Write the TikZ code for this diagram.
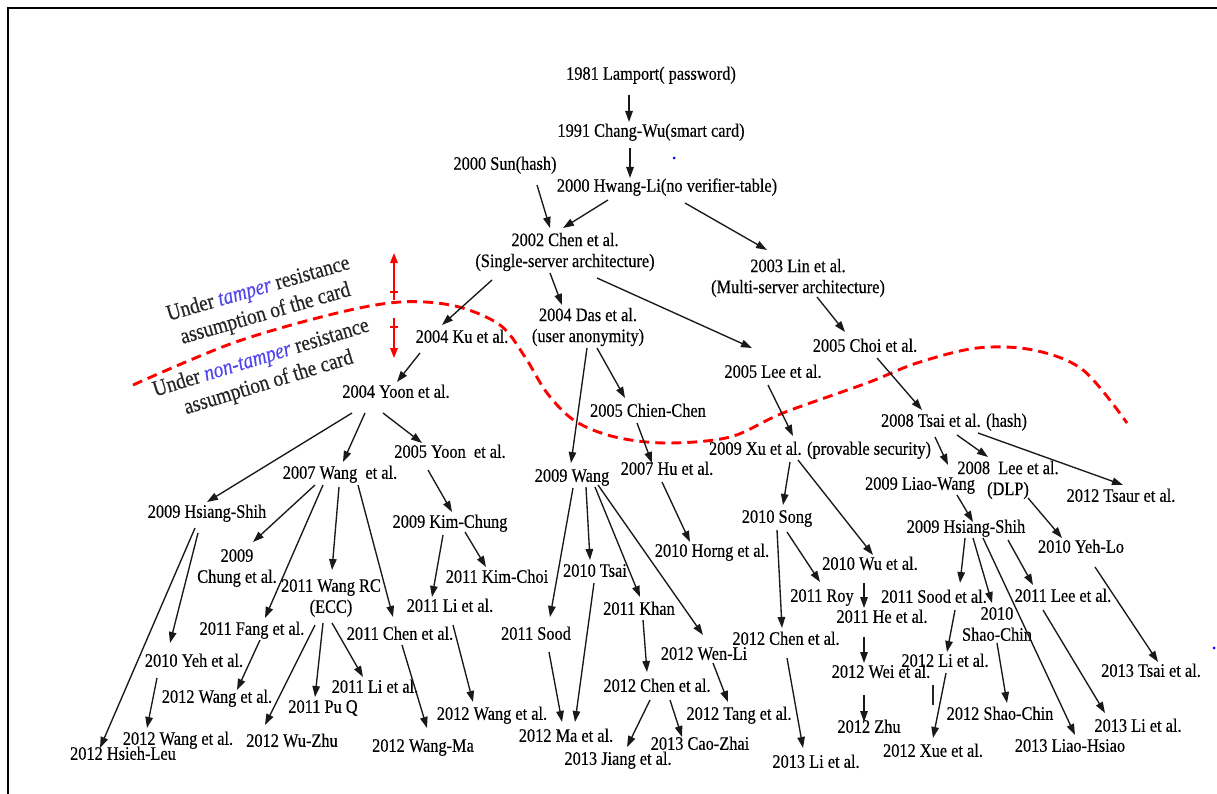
\documentclass[tikz,border=0pt]{standalone}
\usepackage{fontspec}
\setmainfont{Liberation Serif}[FakeStretch=0.86,FakeBold=0.3]
\usetikzlibrary{arrows.meta}
\definecolor{tblue}{RGB}{80,70,235}
\tikzset{
 lbl/.style={font=\fontsize{19}{21}\selectfont, inner sep=0pt, text height=13pt, text depth=3.5pt},
 lbl2/.style={font=\fontsize{19}{21}\selectfont, inner sep=0pt, align=center},
 arr/.style={-{Triangle[length=11pt,width=7.5pt]}, line width=1.35pt, black!90},
 redarr/.style={-{Triangle[length=10pt,width=7.5pt]}, line width=1.7pt, red},
 boundary/.style={red, line width=2.9pt, dash pattern=on 10pt off 6pt},
 note/.style={font=\fontsize{22.5}{26}\selectfont, align=center, inner sep=0pt, text=black!85}
}
\newcommand\conn[4]{\draw[arr] ([shift={(#2)}]#1.center) -- ([shift={(#4)}]#3.center);}
\begin{document}
\begin{tikzpicture}[x=1pt,y=-1pt]
\useasboundingbox (0,0) rectangle (1217,794);
\fill[white] (0,0) rectangle (1217,794);
\draw[line width=2.2pt] (8,794) -- (8,8) -- (1217,8);

% nodes
\node[lbl] (L81) at (651,75) {1981 Lamport( password)};
\node[lbl] (CW91) at (651,132) {1991 Chang-Wu(smart card)};
\node[lbl] (Sun) at (505,165) {2000 Sun(hash)};
\node[lbl] (HL) at (667,187) {2000 Hwang-Li(no verifier-table)};
\node[lbl2] (Chen02) at (565,252) {2002 Chen et al.\\(Single-server architecture)};
\node[lbl2] (Lin03) at (798,278) {2003 Lin et al.\\(Multi-server architecture)};
\node[lbl] (Ku04) at (462,338) {2004 Ku et al.};
\node[lbl] (Yoon04) at (396,393) {2004 Yoon et al.};
\node[lbl2] (Das04) at (588,327) {2004 Das et al.\\(user anonymity)};
\node[lbl] (Lee05) at (773,373) {2005 Lee et al.};
\node[lbl] (Choi05) at (865,347) {2005 Choi et al.};
\node[lbl] (CC05) at (648,412) {2005 Chien-Chen};
\node[lbl] (Tsai08) at (954,422) {2008 Tsai et al. (hash)};
\node[lbl] (Xu09) at (820,450) {2009 Xu et al. (provable security)};
\node[lbl] (Yoon05) at (450,453) {2005 Yoon\ \ et al.};
\node[lbl] (Wang07) at (340,474) {2007 Wang\ \ et al.};
\node[lbl] (Wang09) at (572,477) {2009 Wang};
\node[lbl] (Hu07) at (667,470) {2007 Hu et al.};
\node[lbl2] (LeeDLP) at (1008,480) {2008\ \ Lee et al.\\(DLP)};
\node[lbl] (LiaoW) at (920,485) {2009 Liao-Wang};
\node[lbl] (Tsaur12) at (1121,497) {2012 Tsaur et al.};
\node[lbl] (HSL) at (207,513) {2009 Hsiang-Shih};
\node[lbl] (KimCh) at (450,523) {2009 Kim-Chung};
\node[lbl] (Song10) at (777,518) {2010 Song};
\node[lbl] (HSR) at (966,528) {2009 Hsiang-Shih};
\node[lbl] (Horng10) at (712,552) {2010 Horng et al.};
\node[lbl2] (Chung09) at (237,568) {2009\\Chung et al.};
\node[lbl2] (WangRC) at (331,598) {2011 Wang RC\\(ECC)};
\node[lbl] (KimChoi) at (497,578) {2011 Kim-Choi};
\node[lbl] (Tsai10) at (595,572) {2010 Tsai};
\node[lbl] (YehLo) at (1081,548) {2010 Yeh-Lo};
\node[lbl] (Wu10) at (870,565) {2010 Wu et al.};
\node[lbl] (LiA) at (450,607) {2011 Li et al.};
\node[lbl] (Khan) at (639,610) {2011 Khan};
\node[lbl] (Roy) at (822,597) {2011 Roy};
\node[lbl] (SoodEt) at (934,598) {2011 Sood et al.};
\node[lbl] (Lee11) at (1063,597) {2011 Lee et al.};
\node[lbl2] (SC10) at (997,624) {2010\\Shao-Chin};
\node[lbl] (He11) at (882,618) {2011 He et al.};
\node[lbl] (Fang) at (252,630) {2011 Fang et al.};
\node[lbl] (Chen11) at (400,635) {2011 Chen et al.};
\node[lbl] (Sood) at (536,635) {2011 Sood};
\node[lbl] (Chen12a) at (786,640) {2012 Chen et al.};
\node[lbl] (WenLi) at (704,655) {2012 Wen-Li};
\node[lbl] (Yeh10) at (194,662) {2010 Yeh et al.};
\node[lbl] (Li12) at (945,662) {2012 Li et al.};
\node[lbl] (Wei12) at (881,673) {2012 Wei et al.};
\node[lbl] (Tsai13) at (1151,672) {2013 Tsai et al.};
\node[lbl] (LiB) at (375,688) {2011 Li et al.};
\node[lbl] (Chen12b) at (657,687) {2012 Chen et al.};
\node[lbl] (PuQ) at (323,708) {2011 Pu Q};
\node[lbl] (Wang12a) at (217,698) {2012 Wang et al.};
\node[lbl] (Wang12b) at (492,715) {2012 Wang et al.};
\node[lbl] (Tang) at (739,715) {2012 Tang et al.};
\node[lbl] (SC12) at (1000,715) {2012 Shao-Chin};
\node[lbl] (Li13a) at (1138,727) {2013 Li et al.};
\node[lbl] (Zhu) at (869,728) {2012 Zhu};
\node[lbl] (Ma) at (566,737) {2012 Ma et al.};
\node[lbl] (Wang12c) at (178,740) {2012 Wang et al.};
\node[lbl] (WuZhu) at (292,742) {2012 Wu-Zhu};
\node[lbl] (CaoZhai) at (700,745) {2013 Cao-Zhai};
\node[lbl] (WangMa) at (423,747) {2012 Wang-Ma};
\node[lbl] (LiaoH) at (1070,747) {2013 Liao-Hsiao};
\node[lbl] (Xue) at (933,752) {2012 Xue et al.};
\node[lbl] (HsiehLeu) at (123,755) {2012 Hsieh-Leu};
\node[lbl] (Jiang) at (618,760) {2013 Jiang et al.};
\node[lbl] (Li13b) at (816,763) {2013 Li et al.};

% notes
\node[note, rotate=16] (tamp) at (262,302) {Under \textcolor{tblue}{\itshape tamper} resistance\\assumption of the card};
\node[note, rotate=17] (ntamp) at (265,371) {Under \textcolor{tblue}{\itshape non-tamper} resistance\\assumption of the card};

% boundary
\draw[boundary] plot[smooth, tension=0.55] coordinates {(133,385) (233,343) (333,314) (400,302) (455,306) (500,325) (525,357) (547,393) (575,421) (615,437) (667,443) (730,437) (783,413) (867,383) (917,363) (977,348) (1033,350) (1083,370) (1127,423)};

% red arrows
\coordinate (ua) at (394,300); \coordinate (ub) at (394,253);
\coordinate (da) at (394,318); \coordinate (db) at (394,358);
\draw[redarr] (ua) -- (ub);
\draw[redarr] (da) -- (db);
\draw[red, line width=1.4pt] (390,292) -- (398,292);
\draw[red, line width=1.4pt] (390,327) -- (398,327);

% edges
\conn{L81}{-22,20}{CW91}{-22,-10}
\conn{CW91}{-21,16}{HL}{-37,-9}
\conn{Sun}{32,20}{Chen02}{-15,-24}
\conn{HL}{-59,13}{Chen02}{-2,-24}
\conn{HL}{18,16}{Lin03}{-31,-28}
\conn{Chen02}{-73,28}{Ku04}{-20,-13}
\conn{Chen02}{-15,21}{Das04}{-26,-22}
\conn{Chen02}{32,26}{Lee05}{-21,-25}
\conn{Lin03}{19,19}{Choi05}{-20,-15}
\conn{Ku04}{-42,15}{Yoon04}{1,-11}
\conn{Das04}{-1,21}{Wang09}{-1,-14}
\conn{Das04}{9,21}{CC05}{-23,-14}
\conn{Lee05}{-5,12}{Xu09}{-27,-14}
\conn{Choi05}{12,11}{Tsai08}{-32,-12}
\conn{CC05}{-11,11}{Hu07}{-15,-7}
\conn{Yoon04}{-44,20}{HSL}{0,-11}
\conn{Yoon04}{-31,20}{Wang07}{3,-12}
\conn{Yoon04}{-13,20}{Yoon05}{-28,-10}
\conn{Yoon05}{-22,17}{KimCh}{2,-11}
\conn{Tsai08}{-19,15}{LiaoW}{28,-20}
\conn{Tsai08}{3,13}{LeeDLP}{-20,-23}
\conn{Tsai08}{24,11}{Tsaur12}{2,-12}
\conn{Xu09}{-30,12}{Song10}{6,-13}
\conn{Xu09}{-22,10}{Wu10}{3,-10}
\conn{LiaoW}{37,10}{HSR}{7,-6}
\conn{LeeDLP}{20,18}{YehLo}{-19,-10}
\conn{Hu07}{-5,12}{Horng10}{-22,-10}
\conn{Wang07}{-25,11}{Chung09}{16,-26}
\conn{Wang07}{-17,11}{Fang}{13,-12}
\conn{Wang07}{-1,13}{WangRC}{1,-28}
\conn{Wang07}{18,11}{Chen11}{-7,-18}
\conn{HSL}{-9,20}{Yeh10}{-24,-19}
\conn{HSL}{-12,15}{HsiehLeu}{-23,-7}
\conn{KimCh}{-7,12}{LiA}{-18,-10}
\conn{KimCh}{15,9}{KimChoi}{-11,-11}
\conn{Wang09}{1,11}{Sood}{14,-18}
\conn{Wang09}{14,10}{Tsai10}{-5,-12}
\conn{Wang09}{23,10}{Khan}{1,-13}
\conn{Wang09}{26,8}{WenLi}{-1,-20}
\conn{Song10}{0,12}{Chen12a}{-4,-12}
\conn{Song10}{10,14}{Roy}{-2,-15}
\conn{HSR}{-1,10}{SoodEt}{26,-15}
\conn{HSR}{7,10}{SC10}{-5,-21}
\conn{HSR}{17,10}{LiaoH}{5,-12}
\conn{HSR}{42,12}{Lee11}{-30,-12}
\conn{YehLo}{14,19}{Tsai13}{7,-10}
\conn{Lee11}{-20,13}{Li13a}{-33,-14}
\conn{Wu10}{-6,18}{He11}{-18,-10}
\conn{He11}{-18,19}{Wei12}{-17,-10}
\conn{Wei12}{-17,22}{Zhu}{-5,-6}
\conn{SoodEt}{21,12}{Li12}{2,-10}
\conn{Li12}{1,11}{Xue}{0,-14}
\conn{SC10}{0,19}{SC12}{7,-12}
\conn{Chen12a}{1,18}{Li13b}{-13,-15}
\conn{Khan}{4,10}{Chen12b}{-10,-15}
\conn{WenLi}{9,8}{Tang}{-11,-13}
\conn{Sood}{13,17}{Ma}{-4,-15}
\conn{Tsai10}{-1,11}{Ma}{9,-15}
\conn{Chen12b}{-7,13}{Jiang}{9,-13}
\conn{Chen12b}{13,13}{CaoZhai}{-18,-8}
\conn{LiA}{3,18}{Wang12b}{-19,-13}
\conn{Chen11}{2,10}{WangMa}{4,-19}
\conn{Fang}{8,10}{Wang12a}{20,-8}
\conn{WangRC}{-16,27}{WuZhu}{-27,-17}
\conn{WangRC}{-8,25}{PuQ}{-8,-11}
\conn{WangRC}{1,25}{LiB}{-12,-11}
\conn{Yeh10}{-37,16}{Wang12c}{-31,-12}

% short mark
\coordinate (s1) at (933,685); \coordinate (s2) at (933,705);
\draw[line width=1.6pt, black!85] (s1) -- (s2);

% stray dots
\fill[blue] (674,158) circle (1.5pt);
\fill[blue] (1214,648) circle (1.5pt);
\end{tikzpicture}
\end{document}
